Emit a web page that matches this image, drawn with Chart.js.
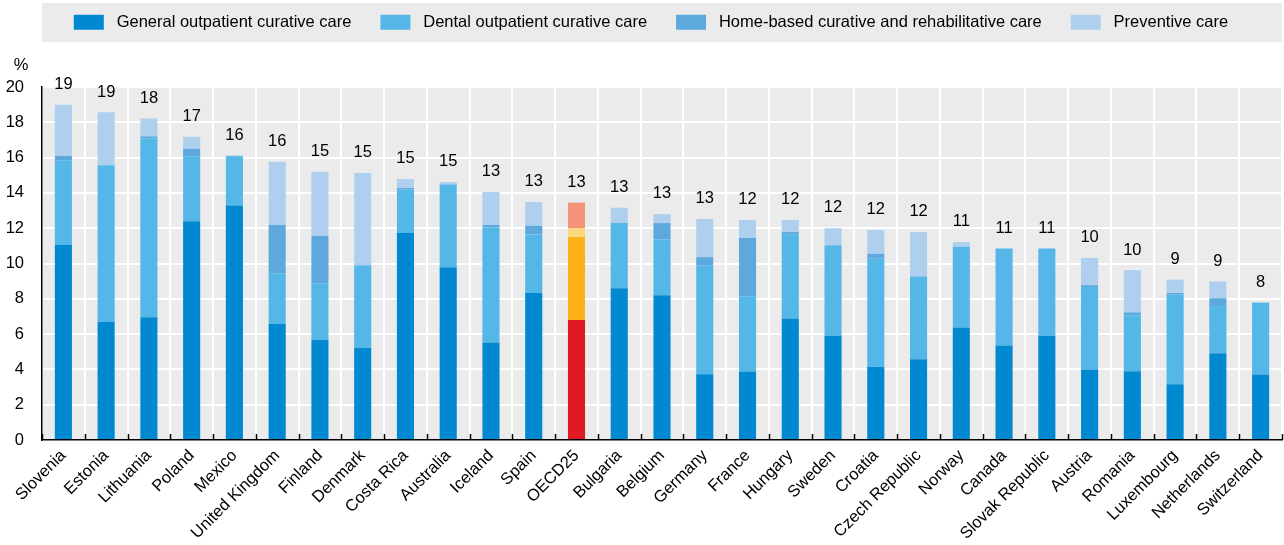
<!DOCTYPE html>
<html>
<head>
<meta charset="utf-8">
<script src="https://cdn.jsdelivr.net/npm/chart.js@4.4.1/dist/chart.umd.min.js"></script>
<style>
  body { margin: 0; background: #fff; }
  #wrap { width: 1284px; height: 545px; }
</style>
</head>
<body>
<div id="wrap"><canvas id="chart"></canvas></div>
<script>
const countries = ["Slovenia", "Estonia", "Lithuania", "Poland", "Mexico", "United Kingdom", "Finland",
  "Denmark", "Costa Rica", "Australia", "Iceland", "Spain", "OECD25", "Bulgaria", "Belgium", "Germany",
  "France", "Hungary", "Sweden", "Croatia", "Czech Republic", "Norway", "Canada", "Slovak Republic",
  "Austria", "Romania", "Luxembourg", "Netherlands", "Switzerland"];

const general = [11.05, 6.7, 6.95, 12.4, 13.28, 6.57, 5.66, 5.23, 11.74, 9.79, 5.53, 8.33, 6.8, 8.6,
  8.2, 3.73, 3.88, 6.89, 5.89, 4.13, 4.58, 6.38, 5.36, 5.89, 3.96, 3.9, 3.16, 4.92, 3.71];
const dental = [4.78, 8.87, 10.15, 3.68, 2.8, 2.86, 3.2, 4.67, 2.46, 4.68, 6.5, 3.32, 4.72, 3.69,
  3.18, 6.17, 4.26, 4.74, 5.15, 6.14, 4.68, 4.57, 5.49, 4.96, 4.71, 3.15, 5.08, 2.67, 4.06];
const homeBased = [0.27, 0, 0.1, 0.42, 0, 2.75, 2.71, 0, 0.08, 0, 0.15, 0.49, 0.48, 0, 0.91, 0.46,
  3.3, 0.15, 0, 0.28, 0, 0, 0, 0, 0.1, 0.18, 0.09, 0.44, 0];
const preventive = [2.9, 3.0, 1.02, 0.68, 0.05, 3.58, 3.63, 5.23, 0.5, 0.15, 1.87, 1.34, 1.45, 0.87,
  0.51, 2.16, 1.02, 0.68, 0.96, 1.34, 2.52, 0.26, 0, 0, 1.55, 2.39, 0.76, 0.95, 0.03];
// totals as printed above the bars
const totalLabels = [19, 19, 18, 17, 16, 16, 15, 15, 15, 15, 13, 13, 13, 13, 13, 13, 12, 12, 12, 12,
  12, 11, 11, 11, 10, 10, 9, 9, 8];

const FONT = "'Liberation Sans', Arial, sans-serif";
Chart.defaults.font.family = FONT;
Chart.defaults.font.size = 16.5;
Chart.defaults.color = "#000";

// OECD average gets its own colours
function colours(normal, oecd) {
  return countries.map(c => (c === "OECD25" ? oecd : normal));
}

// legend takes the whole band above the plot, but its row sits higher up
const legendBand = {
  id: "legendBand",
  beforeLayout(chart) {
    const lg = chart.legend;
    if (lg && !lg._patched) {
      const fit = lg.fit;
      lg.fit = function () {
        fit.call(this);
        this.height = 87;
      };
      lg._patched = true;
    }
  },
  afterLayout(chart) {
    chart.legend.top = -15;
    chart.legend.left += 10;
    chart.legend.right += 10;
  },
};

const backgrounds = {
  id: "backgrounds",
  beforeDraw(chart) {
    const { ctx, chartArea } = chart;
    ctx.save();
    ctx.fillStyle = "#ebebeb";
    ctx.fillRect(chartArea.left, 3, chartArea.right - chartArea.left, 39);
    ctx.fillRect(chartArea.left, chartArea.top, chartArea.right - chartArea.left, chartArea.bottom - chartArea.top);
    ctx.restore();
  },
};

const extras = {
  id: "extras",
  afterDatasetsDraw(chart) {
    const { ctx, chartArea } = chart;
    const x = chart.scales.x;
    const y = chart.scales.y;
    ctx.save();
    // small tick marks between categories, pointing up
    ctx.strokeStyle = "#000";
    ctx.lineWidth = 1.5;
    for (let i = 0; i <= countries.length; i++) {
      const px = Math.round(x.left + (i * (x.right - x.left)) / countries.length) + 0.5;
      ctx.beginPath();
      ctx.moveTo(px, chartArea.bottom);
      ctx.lineTo(px, chartArea.bottom - 6);
      ctx.stroke();
    }
    // totals above bars
    ctx.fillStyle = "#000";
    ctx.font = "16.5px " + FONT;
    ctx.textAlign = "center";
    ctx.textBaseline = "bottom";
    countries.forEach((c, i) => {
      const total = general[i] + dental[i] + homeBased[i] + preventive[i];
      ctx.fillText(String(totalLabels[i]), x.getPixelForValue(i), y.getPixelForValue(total) - 12);
    });
    // unit
    ctx.textBaseline = "middle";
    ctx.fillText("%", 21, 65);
    ctx.restore();
  },
};

new Chart(document.getElementById("chart"), {
  type: "bar",
  data: {
    labels: countries,
    datasets: [
      {
        label: "General outpatient curative care",
        data: general,
        backgroundColor: colours("#0089d0", "#e01a22"),
      },
      {
        label: "Dental outpatient curative care",
        data: dental,
        backgroundColor: colours("#55b7e8", "#fdb119"),
      },
      {
        label: "Home-based curative and rehabilitative care",
        data: homeBased,
        backgroundColor: colours("#5da9de", "#fdd87c"),
      },
      {
        label: "Preventive care",
        data: preventive,
        backgroundColor: colours("#aecfee", "#f4957a"),
      },
    ],
  },
  options: {
    responsive: true,
    maintainAspectRatio: false,
    animation: false,
    layout: { padding: { top: 0, right: 2, left: 0, bottom: 0 } },
    datasets: {
      bar: { categoryPercentage: 1, barPercentage: 0.4 },
    },
    plugins: {
      legend: {
        position: "top",
        labels: {
          boxWidth: 30,
          boxHeight: 15,
          padding: 29,
          color: "#000",
          font: { size: 16.5 },
          // keep the legend boxes blue
          generateLabels(chart) {
            const base = ["#0089d0", "#55b7e8", "#5da9de", "#aecfee"];
            return chart.data.datasets.map((ds, i) => ({
              text: " " + ds.label,
              fillStyle: base[i],
              strokeStyle: base[i],
              lineWidth: 0,
              datasetIndex: i,
              fontColor: "#000",
            }));
          },
        },
      },
      tooltip: { enabled: false },
    },
    scales: {
      x: {
        stacked: true,
        grid: { color: "#fff", lineWidth: 2, drawTicks: false },
        border: { color: "#000", width: 1.5 },
        ticks: { maxRotation: 45, minRotation: 45, autoSkip: false, padding: 6 },
        afterFit(scale) { scale.height = 105; },
      },
      y: {
        stacked: true,
        min: 0,
        max: 20,
        grid: { color: "#fff", lineWidth: 2, drawTicks: false },
        border: { color: "#000", width: 1.5 },
        ticks: { stepSize: 2, padding: 18 },
        afterFit(scale) { scale.width = 42; },
      },
    },
  },
  plugins: [legendBand, backgrounds, extras],
});
</script>
</body>
</html>
